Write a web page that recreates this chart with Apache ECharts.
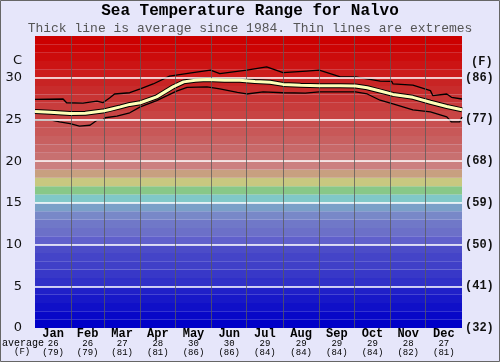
<!DOCTYPE html>
<html><head><meta charset="utf-8">
<script src="https://cdn.jsdelivr.net/npm/echarts@6/dist/echarts.min.js"></script>
<style>html,body{margin:0;padding:0;background:#e6e6fa}#c{width:500px;height:362px}</style>
</head><body><div id="c"></div>
<script>
const months = ['Jan','Feb','Mar','Apr','May','Jun','Jul','Aug','Sep','Oct','Nov','Dec'];
const monthAvgC = [26,26,27,28,30,30,29,29,29,29,28,27];
const monthAvgF = [79,79,81,81,86,86,84,84,84,84,82,81];
const monthStart = [31,59,90,120,151,181,212,243,273,304,334];
const monthMid = [15.5,45,74.5,105,135.5,166,196.5,227.5,258,288.5,319,349.5];
const tempLinesC = [5,10,15,20,25,30];

const avgDays  = [0,13,30,43,58,64,73,81,90,104,118,127,137,147,162,175,188,201,212,227,243,261,274,284,295,306,323,338,352,365];
const avgTemps = [25.95,25.85,25.7,25.75,26.0,26.2,26.5,26.8,27.0,27.7,28.9,29.5,29.7,29.8,29.7,29.7,29.55,29.45,29.2,29.1,29.05,29.05,29.0,28.8,28.4,28.0,27.65,27.06,26.55,26.15];

const maxDays  = [0,24,27,41,53,58,64,68,81,90,101,115,135,150,158,181,198,212,232,243,261,274,295,305,306,323,338,340,352,356,365];
const maxTemps = [27.4,27.45,27.0,26.95,27.2,27.0,27.6,28.05,28.2,28.65,29.25,30.2,30.6,30.9,30.5,30.9,31.3,30.6,30.8,30.9,30.1,30.1,29.6,29.55,29.25,29.1,28.45,27.86,28.05,27.65,27.45];

const minDays  = [0,13,21,30,38,47,53,58,60,70,81,90,104,121,130,147,158,173,181,195,212,231,243,274,284,295,306,323,338,352,356,363,365];
const minTemps = [24.9,24.95,24.7,24.5,24.2,24.3,24.9,24.9,25.2,25.4,25.8,26.5,27.26,28.4,28.85,28.9,28.65,28.25,28.05,28.3,28.2,28.15,28.3,28.3,28.05,27.3,26.85,26.15,25.9,25.3,24.7,24.7,25.3];

const bandColors = [
 '#0000c8','#0808c8','#1010c8','#1818c8','#2020c8',
 '#3030c8','#3838c8','#4040c8','#4444c8','#4c4cc8',
 '#6060cc','#6c70c8','#7078c8','#7888c8','#7aa0c8',
 '#80c8c8','#88c888','#c8c880','#c8a080','#cc8080',
 '#c87070','#c86868','#c86060','#c85858','#c85050',
 '#c84444','#c83c3c','#c83434','#c82c2c','#c82424',
 '#cc1c1c','#cc1414','#cc0c0c','#cc0404','#cc0000'];

const pairs = (d, v) => d.map((x, i) => [x, v[i]]);
const mono = 'Liberation Mono';

const chart = echarts.init(document.getElementById('c'));
chart.setOption({
  backgroundColor: '#e6e6fa',
  animation: false,
  title: {
    text: 'Sea Temperature Range for Nalvo',
    subtext: 'Thick line is average since 1984. Thin lines are extremes',
    left: 'center', top: 3, itemGap: 3, padding: 0,
    textStyle: {fontFamily: mono, fontWeight: 'bold', fontSize: 16, color: '#000'},
    subtextStyle: {fontFamily: mono, fontSize: 13, color: '#555'}
  },
  grid: {left: 35, right: 38, top: 36, bottom: 34},
  xAxis: {
    type: 'value', min: 0, max: 365,
    axisLine: {show: false}, axisTick: {show: false}, splitLine: {show: false},
    axisLabel: {
      customValues: monthMid, margin: 0,
      formatter: function (v) {
        const i = monthMid.findIndex(m => Math.abs(m - v) < 0.01);
        if (i < 0) return '';
        return '{m|' + months[i] + '}\n{n|' + monthAvgC[i] + '}\n{n|(' + monthAvgF[i] + ')}';
      },
      rich: {
        m: {fontFamily: mono, fontWeight: 'bold', fontSize: 12, lineHeight: 11, color: '#000'},
        n: {fontFamily: mono, fontSize: 9, lineHeight: 9, color: '#000'}
      }
    }
  },
  yAxis: [{
    type: 'value', min: 0, max: 35, interval: 5,
    axisLine: {show: false}, axisTick: {show: false}, splitLine: {show: false},
    axisLabel: {showMaxLabel: false, margin: 13, fontFamily: 'DejaVu Sans', fontSize: 13, color: '#111'}
  }, {
    type: 'value', min: 0, max: 35, interval: 5, position: 'right',
    axisLine: {show: false}, axisTick: {show: false}, splitLine: {show: false},
    axisLabel: {showMaxLabel: false, margin: 3, fontFamily: mono, fontWeight: 'bold', fontSize: 12, color: '#111',
      formatter: v => '(' + Math.round(v * 9 / 5 + 32) + ')'}
  }],
  series: [{
    type: 'line', data: [], z: 0, silent: true,
    markArea: {silent: true, data: bandColors.map((c, i) => [{yAxis: i, itemStyle: {color: c}}, {yAxis: i + 1}])}
  }, {
    type: 'line', data: [], z: 1, silent: true,
    markLine: {silent: true, symbol: ['none', 'none'], label: {show: false},
      data: tempLinesC.map(t => ({yAxis: t, lineStyle: {color: '#ffffff', width: 1.5, type: 'solid'}}))
        .concat(monthStart.map(d => ({xAxis: d, lineStyle: {color: 'rgba(90,90,90,0.75)', width: 1, type: 'solid'}})))}
  }, {
    type: 'line', data: pairs(maxDays, maxTemps), z: 3, symbol: 'none', silent: true,
    lineStyle: {color: '#000', width: 1.3}
  }, {
    type: 'line', data: pairs(minDays, minTemps), z: 3, symbol: 'none', silent: true,
    lineStyle: {color: '#000', width: 1.3}
  }, {
    type: 'line', data: pairs(avgDays, avgTemps), z: 4, symbol: 'none', silent: true,
    lineStyle: {color: '#000', width: 5}
  }, {
    type: 'line', data: pairs(avgDays, avgTemps), z: 5, symbol: 'none', silent: true,
    lineStyle: {color: '#ffffb8', width: 3}
  }],
  graphic: [
    {type: 'text', left: 13, top: 54, style: {text: 'C', font: '13px "DejaVu Sans"', fill: '#111'}},
    {type: 'text', left: 471, top: 56, style: {text: '(F)', font: 'bold 12px "Liberation Mono"', fill: '#111'}},
    {type: 'text', left: 2, top: 338, style: {text: 'average', font: '10px "Liberation Mono"', fill: '#000'}},
    {type: 'text', left: 14, top: 347, style: {text: '(F)', font: '9px "Liberation Mono"', fill: '#000'}},
    {type: 'rect', shape: {x: 0.5, y: 0.5, width: 499, height: 361}, style: {fill: 'transparent', stroke: '#666', lineWidth: 1}, silent: true}
  ]
});
</script></body></html>
